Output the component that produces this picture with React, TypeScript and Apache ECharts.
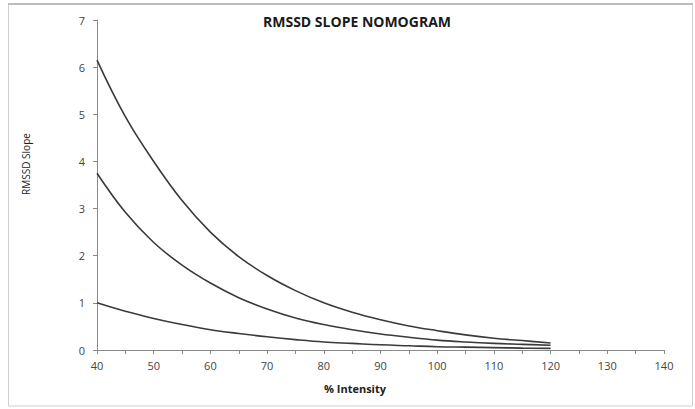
import React, { useEffect, useRef } from "react";
import * as echarts from "echarts";

const intensity = [40, 45, 50, 55, 60, 65, 70, 75, 80, 85, 90, 95, 100, 105, 110, 115, 120];
const upperCurve = [6.15, 4.95, 4.0, 3.17, 2.5, 1.98, 1.58, 1.26, 1.0, 0.8, 0.64, 0.51, 0.41, 0.32, 0.25, 0.2, 0.15];
const middleCurve = [3.75, 2.92, 2.28, 1.8, 1.42, 1.11, 0.87, 0.68, 0.54, 0.43, 0.34, 0.27, 0.21, 0.17, 0.14, 0.12, 0.1];
const lowerCurve = [1.0, 0.82, 0.67, 0.54, 0.43, 0.35, 0.28, 0.22, 0.17, 0.14, 0.11, 0.09, 0.07, 0.06, 0.05, 0.04, 0.035];

const title = "RMSSD SLOPE NOMOGRAM";
const xName = "% Intensity";
const yName = "RMSSD Slope";

const FONT = "'Open Sans', 'DejaVu Sans', sans-serif";

export default function App() {
  const ref = useRef<HTMLDivElement>(null);
  useEffect(() => {
    document.body.style.margin = "0";
    if (!ref.current) return;
    const chart = echarts.init(ref.current, null, { renderer: "svg" });
    const mk = (vals: number[]) => ({
      type: "line",
      data: intensity.map((x, i) => [x, vals[i]]),
      smooth: 0.4,
      showSymbol: false,
      lineStyle: { color: "#3a3a3a", width: 1.6 },
    });
    chart.setOption({
      animation: false,
      backgroundColor: "#ffffff",
      title: {
        text: title,
        left: 352,
        textAlign: "center",
        top: 9,
        textStyle: { fontFamily: FONT, fontSize: 14, fontWeight: "bold", color: "#1a1a1a" },
      },
      graphic: [
        {
          type: "rect",
          shape: { x: 8.5, y: 4, width: 684, height: 402 },
          style: { fill: "none", stroke: "#cfcfcf", lineWidth: 1 },
        },
        {
          type: "line",
          shape: { x1: 8, y1: 4, x2: 693, y2: 4 },
          style: { stroke: "#bdbdbd", lineWidth: 2 },
        },
        {
          type: "text",
          x: 355,
          y: 388,
          style: {
            text: xName,
            align: "center",
            verticalAlign: "middle",
            font: `bold 11px ${FONT}`,
            fill: "#222",
          },
        },
        {
          type: "text",
          x: 26,
          y: 164,
          rotation: Math.PI / 2,
          style: {
            text: yName,
            align: "center",
            verticalAlign: "middle",
            font: `10px ${FONT}`,
            fill: "#222",
          },
        },
      ],
      grid: { left: 97, right: 31, top: 20, bottom: 59 },
      xAxis: {
        type: "value",
        min: 40,
        max: 140,
        interval: 10,
        axisLine: { lineStyle: { color: "#8a8a8a", width: 1 } },
        axisTick: { inside: false, length: 4, lineStyle: { color: "#8a8a8a" } },
        minorTick: { show: true, splitNumber: 2, length: 4, lineStyle: { color: "#8a8a8a" } },
        axisLabel: { fontFamily: FONT, fontSize: 11, color: "#444", margin: 10 },
        splitLine: { show: false },
      },
      yAxis: {
        type: "value",
        min: 0,
        max: 7,
        interval: 1,
        axisLine: { show: true, lineStyle: { color: "#8a8a8a", width: 1 } },
        axisTick: { show: true, length: 4, lineStyle: { color: "#8a8a8a" } },
        axisLabel: { fontFamily: FONT, fontSize: 11, color: "#444", margin: 12 },
        splitLine: { show: false },
      },
      series: [mk(upperCurve), mk(middleCurve), mk(lowerCurve)],
    });
    return () => chart.dispose();
  }, []);
  return <div ref={ref} style={{ width: 695, height: 409 }} />;
}
